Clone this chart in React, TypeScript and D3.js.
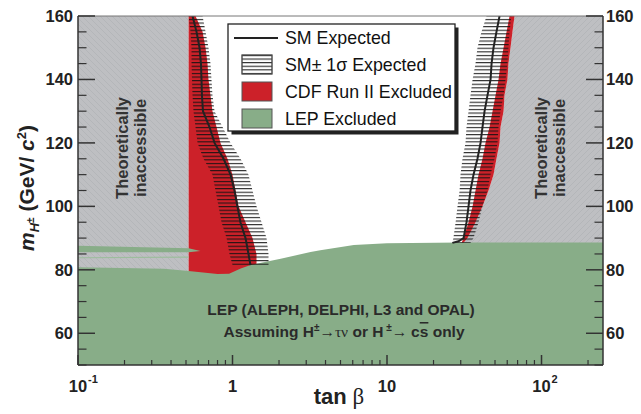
import React from 'react';
import * as d3 from 'd3';

// ---------- data ----------
const xDomain: [number, number] = [0.1, 250];
const yDomain: [number, number] = [50, 160];

const yMajorTicks = [60, 80, 100, 120, 140, 160];
const yMinorTicks = [50, 55, 65, 70, 75, 85, 90, 95, 105, 110, 115, 125, 130, 135, 145, 150, 155];
const xMajorTicks = [0.1, 1, 10, 100];
const xTickBase = ['10', '1', '10', '10'];
const xTickExp = ['-1', '', '', '2'];
const xMinorTicks = [0.2, 0.3, 0.4, 0.5, 0.6, 0.7, 0.8, 0.9, 2, 3, 4, 5, 6, 7, 8, 9, 20, 30, 40, 50, 60, 70, 80, 90, 200];

// theoretical limit at low tan(beta)
const theoryLowTanB = 0.52;

// left (low tan beta) exclusion
const leftMass = [160, 155, 150, 145, 140, 135, 130, 125, 120, 115, 110, 105, 100, 95, 90, 85, 81.5];
const leftExpected = [0.551, 0.585, 0.612, 0.625, 0.63, 0.634, 0.644, 0.71, 0.765, 0.875, 0.971, 1.03, 1.076, 1.125, 1.214, 1.269, 1.307];
const leftBandLow = [0.519, 0.535, 0.543, 0.543, 0.547, 0.551, 0.559, 0.576, 0.594, 0.649, 0.742, 0.776, 0.812, 0.849, 0.915, 0.956, 1.0];
const leftBandHigh = [0.64, 0.669, 0.699, 0.72, 0.731, 0.742, 0.765, 0.862, 0.971, 1.127, 1.269, 1.347, 1.43, 1.541, 1.66, 1.71, 1.71];
const leftCdfEdge = [0.576, 0.64, 0.669, 0.689, 0.699, 0.72, 0.742, 0.788, 0.836, 0.928, 1.0, 1.046, 1.094, 1.214, 1.347, 1.43, 1.43];

// right (high tan beta) exclusion
const rightMass = [160, 155, 150, 145, 140, 135, 130, 125, 120, 115, 110, 105, 100, 95, 90, 88.5];
const rightBandLow = [44.1, 40.9, 38.5, 37.4, 35.8, 34.7, 33.7, 32.7, 32.2, 30.8, 29.9, 29.5, 28.6, 27.8, 26.9, 26.5];
const rightBandHigh = [63.9, 62.1, 61.1, 60.2, 58.5, 56.8, 54.3, 52.7, 51.9, 49.6, 46.8, 44.7, 41.5, 39.1, 36.3, 34.7];
const rightCdfLow = [62.1, 59.4, 56.8, 54.3, 52.7, 50.4, 48.2, 46.1, 43.4, 41.5, 39.1, 37.4, 35.8, 33.7, 31.3, 30.4];
const rightCdfHigh = [66.9, 64.9, 63.0, 61.1, 60.2, 57.6, 56.8, 54.3, 53.5, 51.1, 48.9, 45.4, 41.5, 37.4, 33.2, 31.3];
const rightExpMass = [160, 155, 150, 145, 140, 135, 130, 125, 120, 115, 110, 105, 100, 95, 90, 89, 88.5];
const rightExpected = [53.5, 51.1, 48.9, 47.5, 46.8, 44.7, 42.8, 41.5, 40.3, 38.5, 36.3, 34.7, 33.7, 32.7, 31.3, 29.0, 26.5];

// LEP exclusion boundary
const lepTanB = [0.1, 0.36, 0.52, 0.8, 0.95, 1.13, 1.31, 2.05, 3.2, 3.7, 6.1, 10, 30, 250];
const lepMass = [80.8, 80.3, 79.6, 78.7, 78.8, 80.4, 81.5, 83.5, 85.6, 86.2, 87.8, 88.4, 88.6, 88.6];
const lepSliverTanB = [0.1, 0.52, 0.62, 0.52, 0.1];
const lepSliverMass = [87.6, 86.8, 85.9, 85.5, 85.5];
const lepLineTanB = [0.1, 0.52];
const lepLineMass = [83.8, 84.0];

// ---------- styles ----------
const FONT = 'Liberation Sans, Arial, Helvetica, sans-serif';
const C_GREY = '#bebfc2';
const C_HATCH = '#adaeb2';
const C_RED = '#cc2129';
const C_GREEN = '#88ad88';
const C_INK = '#222';

type P = [number, number];

export default function App() {
  const x = d3.scaleLog().domain(xDomain).range([78, 603]);
  const y = d3.scaleLinear().domain(yDomain).range([365, 16]);
  const line = d3.line<P>().x((d) => x(d[0])).y((d) => y(d[1]));
  const poly = (pts: P[]) => (line(pts) || '') + 'Z';
  const zip = (ts: number[], ms: number[]): P[] => ts.map((t, i) => [t, ms[i]] as P);

  const [mTop, mBot] = [yDomain[1], 78];

  const greyLeft = poly([[xDomain[0], mTop], [theoryLowTanB, mTop], [theoryLowTanB, mBot], [xDomain[0], mBot]]);
  const rightEdge = zip(rightCdfHigh, rightMass);
  const greyRight = poly([...rightEdge, [rightCdfHigh[rightCdfHigh.length - 1], 85], [xDomain[1], 85], [xDomain[1], mTop]]);

  const leftEdge = zip(leftCdfEdge, leftMass);
  const redLeft = poly([[theoryLowTanB, mTop], ...leftEdge, [leftCdfEdge[leftCdfEdge.length - 1], mBot], [theoryLowTanB, mBot]]);
  const redRight = poly([
    ...zip(rightCdfLow, rightMass),
    [rightCdfLow[rightCdfLow.length - 1], 86],
    [rightCdfHigh[rightCdfHigh.length - 1], 86],
    ...zip(rightCdfHigh, rightMass).reverse(),
  ]);

  const lep = poly([...zip(lepTanB, lepMass), [xDomain[1], yDomain[0]], [xDomain[0], yDomain[0]]]);
  const sliver = poly(zip(lepSliverTanB, lepSliverMass));
  const lepLine = line(zip(lepLineTanB, lepLineMass)) || '';

  const bandLeft = poly([...zip(leftBandLow, leftMass), ...zip(leftBandHigh, leftMass).reverse()]);
  const bandRight = poly([...zip(rightBandLow, rightMass), ...zip(rightBandHigh, rightMass).reverse()]);
  const expLeft = line(zip(leftExpected, leftMass)) || '';
  const expRight = line(zip(rightExpected, rightExpMass)) || '';

  const legendItems = ['SM Expected', 'SM\u00b1 1\u03c3 Expected', 'CDF Run II Excluded', 'LEP Excluded'];

  return (
    <svg width={641} height={414} style={{ position: 'absolute', left: 0, top: 0, background: '#fff' }} fontFamily={FONT}>
      <defs>
        <clipPath id="plot">
          <rect x={78} y={16} width={525} height={349} />
        </clipPath>
        <pattern id="hatchL" patternUnits="userSpaceOnUse" width={6} height={6}>
          <path d="M0,0 L6,6 M-1,5 L1,7 M5,-1 L7,1" stroke={C_HATCH} strokeWidth={0.55} />
        </pattern>
        <pattern id="hatchR" patternUnits="userSpaceOnUse" width={6} height={6}>
          <path d="M0,6 L6,0 M-1,1 L1,-1 M5,7 L7,5" stroke={C_HATCH} strokeWidth={0.55} />
        </pattern>
        <pattern id="hlines" patternUnits="userSpaceOnUse" width={10} height={3.6} y={0}>
          <rect x={0} y={1} width={10} height={1} fill="#111" />
        </pattern>
      </defs>

      <g clipPath="url(#plot)">
        <path d={greyLeft} fill={C_GREY} />
        <path d={greyLeft} fill="url(#hatchL)" />
        <path d={greyRight} fill={C_GREY} />
        <path d={greyRight} fill="url(#hatchR)" />
        <path d={redLeft} fill={C_RED} />
        <path d={redRight} fill={C_RED} />
        <path d={lep} fill={C_GREEN} />
        <path d={sliver} fill={C_GREEN} />
        <path d={lepLine} fill="none" stroke="#9dbd9d" strokeWidth={1.2} />
        <path d={bandLeft} fill="url(#hlines)" />
        <path d={bandRight} fill="url(#hlines)" />
        <path d={expLeft} fill="none" stroke={C_INK} strokeWidth={2} />
        <path d={expRight} fill="none" stroke={C_INK} strokeWidth={2} />
      </g>

      {/* frame */}
      <line x1={78} x2={603} y1={16} y2={16} stroke="#777" strokeWidth={1} />
      <line x1={78} x2={603} y1={365} y2={365} stroke="#333" strokeWidth={1.5} />
      <line x1={78} x2={78} y1={16} y2={365} stroke="#333" strokeWidth={1.5} />
      <line x1={603} x2={603} y1={16} y2={365} stroke="#333" strokeWidth={1.5} />

      {/* y ticks */}
      {yMajorTicks.map((v) => (
        <g key={'ym' + v}>
          <line x1={78} x2={95} y1={y(v)} y2={y(v)} stroke="#333" strokeWidth={1.5} />
          <line x1={586} x2={603} y1={y(v)} y2={y(v)} stroke="#333" strokeWidth={1.5} />
          <text x={73} y={y(v) + 6} textAnchor="end" fontSize={16.5} fontWeight="bold" fill={C_INK}>{v}</text>
          <text x={606} y={y(v) + 6} textAnchor="start" fontSize={16.5} fontWeight="bold" fill={C_INK}>{v}</text>
        </g>
      ))}
      {yMinorTicks.map((v) => (
        <g key={'yn' + v}>
          <line x1={78} x2={86.5} y1={y(v)} y2={y(v)} stroke="#333" strokeWidth={1.2} />
          <line x1={594.5} x2={603} y1={y(v)} y2={y(v)} stroke="#333" strokeWidth={1.2} />
        </g>
      ))}

      {/* x ticks */}
      {xMajorTicks.map((v, i) => {
        const lx = Math.max(x(v), 69);
        return (
          <g key={'xm' + v}>
            <line x1={x(v)} x2={x(v)} y1={365} y2={355} stroke="#333" strokeWidth={1.5} />
            <text x={lx} y={392} textAnchor="middle" fontSize={16.5} fontWeight="bold" fill={C_INK}>{xTickBase[i]}</text>
            {xTickExp[i] && (
              <text x={lx + 10} y={383} textAnchor="start" fontSize={11} fontWeight="bold" fill={C_INK}>{xTickExp[i]}</text>
            )}
          </g>
        );
      })}
      {xMinorTicks.map((v) => (
        <line key={'xn' + v} x1={x(v)} x2={x(v)} y1={365} y2={360} stroke="#333" strokeWidth={1.2} />
      ))}

      {/* axis titles */}
      <text x={339} y={404} textAnchor="middle" fill={C_INK}>
        <tspan fontWeight="bold" fontSize={22}>tan</tspan>
        <tspan fontFamily="Liberation Serif, DejaVu Serif, serif" fontSize={23}>{' \u03b2'}</tspan>
      </text>
      <text transform="translate(34,188) rotate(-90)" textAnchor="middle" fontWeight="bold" fontSize={21} fill={C_INK}>
        <tspan fontStyle="italic">m</tspan>
        <tspan fontStyle="italic" fontSize={13} dy={5}>H</tspan>
        <tspan fontSize={10} dy={-5}>{'\u00b1'}</tspan>
        <tspan dy={0}>{' (GeV/ '}</tspan>
        <tspan fontStyle="italic">c</tspan>
        <tspan fontSize={13} dy={-8}>2</tspan>
        <tspan dy={8}>)</tspan>
      </text>

      {/* region labels */}
      {[{ cx: 128, cy: 148 }, { cx: 547, cy: 148 }].map((p, i) => (
        <text key={'th' + i} transform={`translate(${p.cx},${p.cy}) rotate(-90)`} textAnchor="middle" fontWeight="bold" fontSize={16.5} fill="#333">
          <tspan x={0} dy={0}>Theoretically</tspan>
          <tspan x={0} dy={18}>inaccessible</tspan>
        </text>
      ))}

      <text x={341} y={315} textAnchor="middle" fontWeight="bold" fontSize={15.5} fill="#2a2a2a">LEP (ALEPH, DELPHI, L3 and OPAL)</text>
      <text x={344} y={337} textAnchor="middle" fontWeight="bold" fontSize={15.5} fill="#2a2a2a">
        <tspan>Assuming H</tspan>
        <tspan fontSize={10} dy={-6}>{'\u00b1'}</tspan>
        <tspan dy={6} fontWeight="normal" fontFamily="Liberation Serif, DejaVu Serif, serif">{'\u2192\u03c4\u03bd'}</tspan>
        <tspan>{' or H'}</tspan>
        <tspan fontSize={10} dy={-6}>{' \u00b1'}</tspan>
        <tspan dy={6} fontWeight="normal" fontFamily="Liberation Serif, DejaVu Serif, serif">{'\u2192 '}</tspan>
        <tspan>c</tspan>
        <tspan style={{ textDecoration: 'overline' }}>s</tspan>
        <tspan>{' only'}</tspan>
      </text>

      {/* legend */}
      <rect x={231.5} y={27.5} width={227} height={107} fill="#222" />
      <rect x={228} y={24} width={227} height={107} fill="#fff" stroke="#222" strokeWidth={1.3} />
      <line x1={234} x2={278} y1={38} y2={38} stroke={C_INK} strokeWidth={2} />
      <rect x={242} y={55} width={30} height={19} fill="#fff" stroke="#555" strokeWidth={1} />
      <rect x={242} y={55} width={30} height={19} fill="url(#hlines)" stroke="#555" strokeWidth={1} />
      <rect x={242} y={82} width={30} height={19} fill={C_RED} stroke="#555" strokeWidth={1} />
      <rect x={242} y={109} width={30} height={19} fill={C_GREEN} stroke="#555" strokeWidth={1} />
      {legendItems.map((s, i) => (
        <text key={s} x={285} y={44 + i * 27} fontSize={17.8} fill="#111">{s}</text>
      ))}
    </svg>
  );
}
